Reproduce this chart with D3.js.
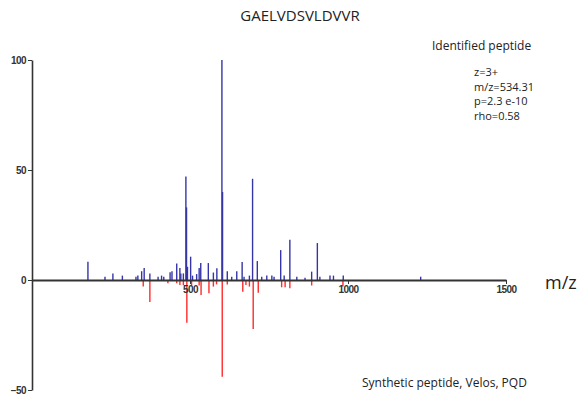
<!DOCTYPE html>
<html>
<head>
<meta charset="utf-8">
<script src="https://cdn.jsdelivr.net/npm/d3@7"></script>
<style>
  body { margin: 0; background: #fff; }
  svg { display: block; }
  .axis text { font-family: "Liberation Sans", Arial, sans-serif; font-weight: bold; font-size: 10px; fill: #333; letter-spacing: -0.6px; }
  .axis path, .axis line { stroke: #333; }
  .lbl { font-family: "Open Sans", "Noto Sans", sans-serif; fill: #222; }
</style>
</head>
<body>
<svg id="chart" width="579" height="400"></svg>
<script>
// identified peptide spectrum (upward)
var identMz = [177, 231, 256, 286, 329, 335, 347, 355, 373, 399, 410, 417, 437, 443, 458, 468, 471, 479,
  487, 489, 492, 502, 508, 521, 529, 534, 558, 574, 585, 601, 603, 618, 632, 648, 665, 671, 688, 698,
  713, 727, 743, 759, 766, 787, 798, 816, 838, 864, 885, 903, 911, 943, 954, 985, 1230];
var identInt = [8.3, 1.5, 3, 2, 1.5, 2, 4, 5.5, 3, 1.5, 2, 1.5, 3.5, 4, 7.5, 5.5, 3, 3,
  47, 33, 6, 10.6, 2, 2.7, 5.4, 7.7, 7.7, 3.4, 5.3, 100, 40, 4, 1.5, 4, 8.2, 1.5, 2, 46,
  8.6, 1.5, 2, 2, 1.5, 13.6, 2, 18.3, 1.5, 1, 3.8, 16.8, 1.5, 2, 2, 2, 1.5];

// synthetic peptide spectrum (downward)
var synthMz = [352, 373, 430, 458, 468, 479, 490, 505, 529, 535, 560, 574, 584, 602, 618, 667, 677, 688,
  700, 716, 790, 801, 816, 885, 984];
var synthInt = [-3, -10, -1.5, -1.5, -2.3, -2.3, -19.4, -2.5, -2.5, -6.8, -6, -3, -2, -44, -2, -5.3, -2.3, -3,
  -22.3, -5.8, -3.3, -3.3, -3.8, -2.5, -3];

var yTicks = [-50, 0, 50, 100];
var xTicks = [500, 1000, 1500];

var svg = d3.select('#chart');
var x = d3.scaleLinear().domain([0, 1500]).range([32, 506]);
var y = d3.scaleLinear().domain([-50, 100]).range([390, 60]);

var ident = identMz.map(function(d, i) { return { mz: d, v: identInt[i] }; });
var synth = synthMz.map(function(d, i) { return { mz: d, v: synthInt[i] }; });

svg.append('g').selectAll('line.s')
  .data(synth)
  .enter().append('line')
  .attr('x1', function(d) { return x(d.mz); })
  .attr('x2', function(d) { return x(d.mz); })
  .attr('y1', y(0))
  .attr('y2', function(d) { return y(d.v); })
  .attr('stroke', '#ff2b2b')
  .attr('stroke-width', 1.4);

svg.append('g').selectAll('line.i')
  .data(ident)
  .enter().append('line')
  .attr('x1', function(d) { return x(d.mz); })
  .attr('x2', function(d) { return x(d.mz); })
  .attr('y1', y(0))
  .attr('y2', function(d) { return y(d.v); })
  .attr('stroke', '#3535a8')
  .attr('stroke-width', 1.4);

var yAxis = svg.append('g')
  .attr('class', 'axis')
  .attr('transform', 'translate(' + x(0) + ',0)')
  .call(d3.axisLeft(y).tickValues(yTicks).tickSize(4).tickSizeOuter(0).tickPadding(2));
yAxis.select('.domain').attr('stroke-width', 1.6);

var xAxis = svg.append('g')
  .attr('class', 'axis')
  .attr('transform', 'translate(0,' + y(0) + ')')
  .call(d3.axisBottom(x).tickValues(xTicks).tickFormat(d3.format('d'))
    .tickSize(4).tickSizeOuter(0).tickPadding(2));
xAxis.select('.domain').attr('stroke-width', 2.2);

svg.append('text').attr('class', 'lbl')
  .attr('x', 300).attr('y', 21)
  .attr('text-anchor', 'middle')
  .style('font-size', '15px')
  .text('GAELVDSVLDVVR');

svg.append('text').attr('class', 'lbl')
  .attr('x', 432).attr('y', 50)
  .style('font-size', '12px')
  .text('Identified peptide');

var stats = ['z=3+', 'm/z=534.31', 'p=2.3 e-10', 'rho=0.58'];
svg.append('g').selectAll('text')
  .data(stats)
  .enter().append('text').attr('class', 'lbl')
  .attr('x', 474)
  .attr('y', function(d, i) { return 76 + i * 14.5; })
  .style('font-size', '11px')
  .text(function(d) { return d; });

svg.append('text').attr('class', 'lbl')
  .attr('x', 545).attr('y', 289)
  .style('font-size', '18px')
  .text('m/z');

svg.append('text').attr('class', 'lbl')
  .attr('x', 362).attr('y', 387)
  .style('font-size', '12px')
  .text('Synthetic peptide, Velos, PQD');
</script>
</body>
</html>
